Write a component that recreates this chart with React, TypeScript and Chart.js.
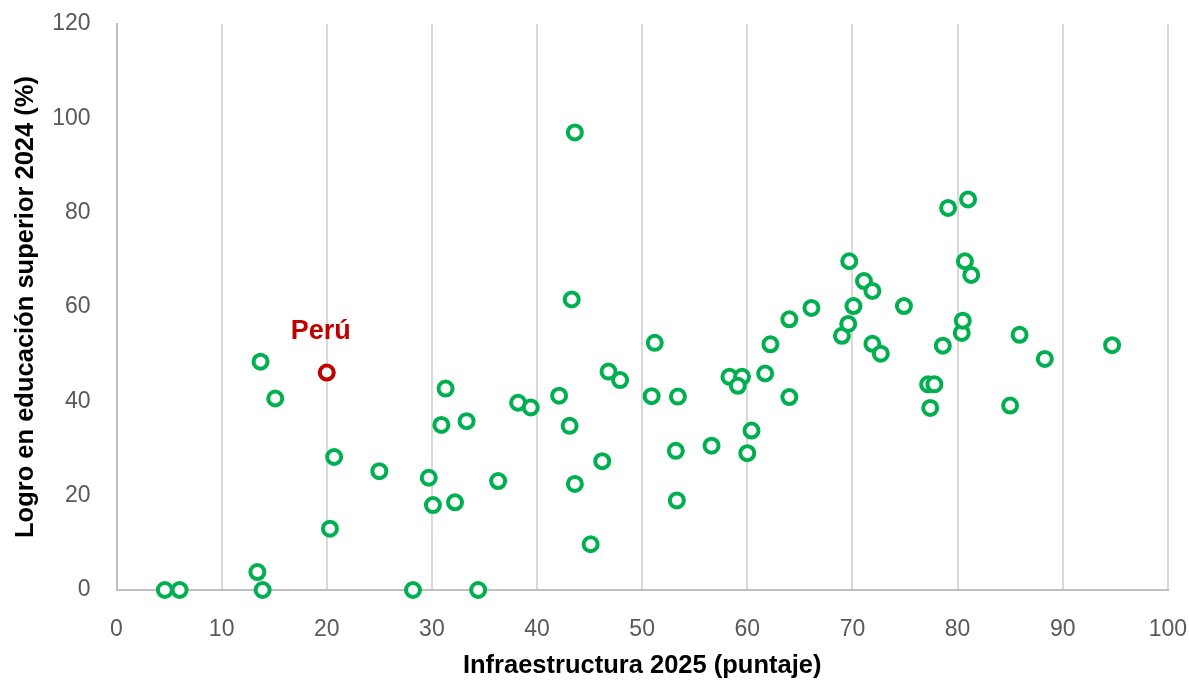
import React, { useEffect, useRef } from "react";
import { Chart, registerables } from "chart.js";

Chart.register(...registerables);

// Infraestructura 2025 (puntaje) — other countries
const infraX: number[] = [
  4.6, 6.0, 13.4, 13.9, 13.7, 15.1, 20.3, 20.7, 25.0, 28.2,
  29.7, 30.1, 30.9, 31.3, 32.2, 33.3, 34.4, 36.3, 38.2, 39.4,
  42.1, 43.1, 43.3, 43.6, 43.6, 45.1, 46.2, 46.8, 47.9, 50.9,
  51.2, 53.2, 53.4, 53.3, 56.6, 58.3, 59.5, 59.1, 60.0, 60.4,
  61.7, 62.2, 64.0, 64.0, 66.1, 69.0, 69.6, 69.7, 70.1, 71.1,
  71.9, 71.9, 72.7, 74.9, 77.2, 77.8, 77.4, 78.6, 79.1, 80.4,
  80.5, 80.7, 81.0, 81.3, 85.0, 85.9, 88.3, 94.7,
];
// Logro en educación superior 2024 (%) — other countries
const educY: number[] = [
  0, 0, 3.8, 0, 48.4, 40.6, 13.0, 28.2, 25.2, 0,
  23.8, 18.0, 35.0, 42.7, 18.6, 35.8, 0, 23.1, 39.7, 38.7,
  41.2, 34.8, 61.6, 97.0, 22.5, 9.7, 27.3, 46.3, 44.5, 41.1,
  52.4, 29.5, 41.0, 19.0, 30.6, 45.2, 45.2, 43.3, 29.0, 33.8,
  45.9, 52.1, 40.9, 57.4, 59.8, 53.9, 56.4, 69.7, 60.2, 65.5,
  63.4, 52.2, 50.1, 60.2, 43.6, 43.6, 38.6, 51.8, 81.0, 54.5,
  57.1, 69.7, 82.8, 66.8, 39.1, 54.1, 49.0, 51.9,
];

const peruLabel = "Perú";
const peruX: number[] = [20.0];
const peruY: number[] = [46.1];

const xTicks: number[] = [0, 10, 20, 30, 40, 50, 60, 70, 80, 90, 100];
const yTicks: number[] = [0, 20, 40, 60, 80, 100, 120];

const xTitle = "Infraestructura 2025 (puntaje)";
const yTitle = "Logro en educación superior 2024 (%)";

const FONT = "'Liberation Sans', Arial, sans-serif";

const peruLabelPlugin = {
  id: "peruLabel",
  afterDatasetsDraw(chart: any) {
    const { ctx, scales } = chart;
    const px = scales.x.getPixelForValue(peruX[0]);
    const py = scales.y.getPixelForValue(peruY[0]);
    ctx.save();
    ctx.font = `bold 27px ${FONT}`;
    ctx.fillStyle = "#C00000";
    ctx.textAlign = "center";
    ctx.textBaseline = "alphabetic";
    ctx.fillText(peruLabel, px - 6, py - 34);
    ctx.restore();
  },
};

export default function App() {
  const canvasRef = useRef<HTMLCanvasElement | null>(null);

  useEffect(() => {
    if (!canvasRef.current) return;
    const others = infraX.map((x, i) => ({ x, y: educY[i] }));
    const peru = peruX.map((x, i) => ({ x, y: peruY[i] }));
    const chart = new Chart(canvasRef.current, {
      type: "scatter",
      data: {
        datasets: [
          {
            label: "Países",
            data: others,
            pointStyle: "circle",
            pointRadius: 7,
            pointHoverRadius: 7,
            borderWidth: 4,
            borderColor: "#00B050",
            backgroundColor: "#FFFFFF",
            clip: false,
          },
          {
            label: peruLabel,
            data: peru,
            pointStyle: "circle",
            pointRadius: 7,
            pointHoverRadius: 7,
            borderWidth: 4,
            borderColor: "#C00000",
            backgroundColor: "#FFFFFF",
            clip: false,
          },
        ],
      },
      options: {
        animation: false,
        responsive: true,
        maintainAspectRatio: false,
        layout: { padding: { top: 24, right: 20, left: 0, bottom: 0 } },
        plugins: {
          legend: { display: false },
          tooltip: { enabled: false },
        },
        scales: {
          x: {
            type: "linear",
            min: 0,
            max: 100,
            afterBuildTicks: (scale: any) => {
              scale.ticks = xTicks.map((v) => ({ value: v }));
            },
            afterFit: (scale: any) => {
              scale.height = 91;
            },
            grid: {
              display: true,
              color: "#D9D9D9",
              lineWidth: 2,
              drawTicks: true,
              tickLength: 24,
              tickColor: "rgba(0,0,0,0)",
            },
            border: { display: true, color: "#BFBFBF", width: 2 },
            ticks: {
              color: "#595959",
              font: { family: FONT, size: 23 },
              padding: 2,
              maxRotation: 0,
            },
            title: {
              display: true,
              text: xTitle,
              color: "#000000",
              font: { family: FONT, size: 25.5, weight: "bold" },
              padding: { top: 0, bottom: 0 },
            },
          },
          y: {
            type: "linear",
            min: 0,
            max: 120,
            afterBuildTicks: (scale: any) => {
              scale.ticks = yTicks.map((v) => ({ value: v }));
            },
            afterFit: (scale: any) => {
              scale.width = 116.5;
            },
            grid: {
              display: false,
              drawTicks: true,
              tickLength: 24,
              tickColor: "rgba(0,0,0,0)",
            },
            border: { display: true, color: "#BFBFBF", width: 2 },
            ticks: {
              color: "#595959",
              font: { family: FONT, size: 23 },
              padding: 2,
            },
            title: {
              display: true,
              text: yTitle,
              color: "#000000",
              font: { family: FONT, size: 25.5, weight: "bold" },
              padding: { top: 11, bottom: 0 },
            },
          },
        },
      },
      plugins: [peruLabelPlugin],
    });
    return () => chart.destroy();
  }, []);

  return (
    <div
      style={{
        position: "absolute",
        left: 0,
        top: 0,
        width: 1189,
        height: 681,
        background: "#FFFFFF",
      }}
    >
      <canvas ref={canvasRef} />
    </div>
  );
}
